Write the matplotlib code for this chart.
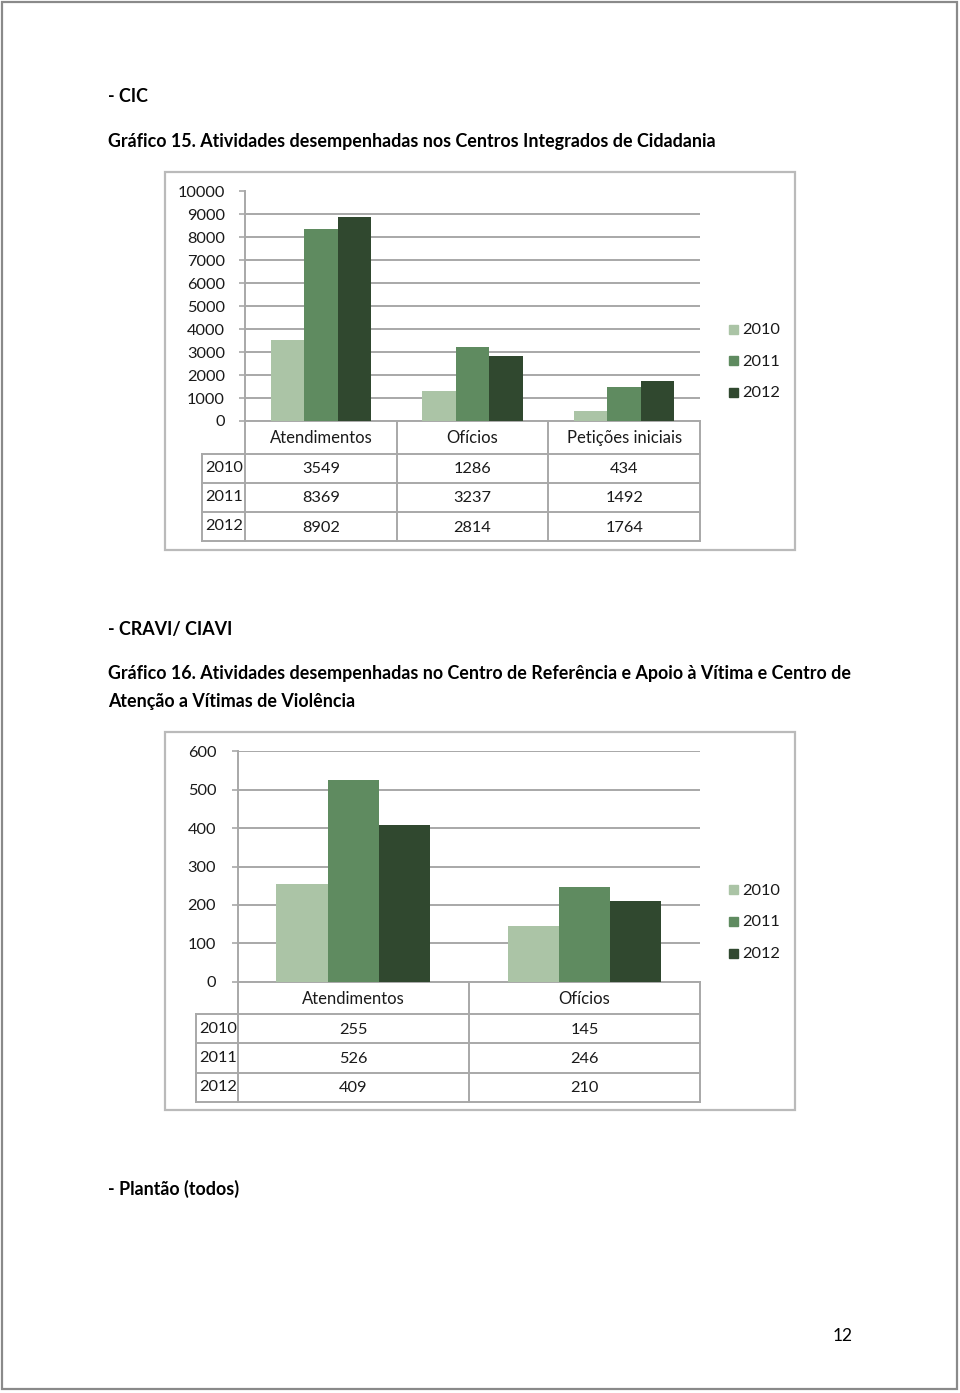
import numpy as np
import matplotlib
matplotlib.use("Agg")
import matplotlib.pyplot as plt
from matplotlib.patches import Rectangle
from matplotlib.transforms import blended_transform_factory

plt.rcParams['font.family'] = ['Lato', 'DejaVu Sans']

# ---------------- Data ----------------
years = ["2010", "2011", "2012"]

cic_cats = ["Atendimentos", "Ofícios", "Petições iniciais"]
cic_2010 = [3549, 1286, 434]
cic_2011 = [8369, 3237, 1492]
cic_2012 = [8902, 2814, 1764]

cravi_cats = ["Atendimentos", "Ofícios"]
cravi_2010 = [255, 145]
cravi_2011 = [526, 246]
cravi_2012 = [409, 210]

colors = ["#abc4a6", "#5f8b60", "#30482f"]
grid_col = "#a8a8a8"
text_col = "#1a1a1a"
num_size = 11.8
lab_size = 12

W, H = 960, 1393
fig = plt.figure(figsize=(W / 100, H / 100), dpi=100)

# overlay in pixel coordinates for page text, frames, table lines
ov = fig.add_axes([0, 0, 1, 1])
ov.set_xlim(0, W)
ov.set_ylim(H, 0)
ov.axis("off")


def px_axes(x0, y0, x1, y1):
    return fig.add_axes([x0 / W, 1 - y1 / H, (x1 - x0) / W, (y1 - y0) / H])


def draw_chart(frame, box, cats, series, ymax, ystep, table_left, row_lines,
               legend_ys, bar_w, tick_pad):
    x0, y0, x1, y1 = box
    # outer frame
    fx0, fy0, fx1, fy1 = frame
    ov.add_patch(Rectangle((fx0, fy0), fx1 - fx0, fy1 - fy0, fill=False,
                           edgecolor="#bababa", lw=1.6))

    ax = px_axes(x0, y0, x1, y1)
    n = len(cats)
    xs = np.arange(n)
    bars = []
    for j, vals in enumerate(series):
        b = ax.bar(xs + (j - 1) * bar_w, vals, bar_w, color=colors[j], zorder=3)
        bars.append(b)
    ax.set_xlim(-0.5, n - 0.5)
    ax.set_ylim(0, ymax)
    ax.set_yticks(np.arange(0, ymax + 1, ystep))
    ax.yaxis.grid(True, color=grid_col, lw=1.4)
    ax.set_axisbelow(True)
    for s in ["top", "right", "bottom"]:
        ax.spines[s].set_visible(False)
    ax.spines["left"].set_color(grid_col)
    ax.spines["left"].set_linewidth(1.4)
    ax.tick_params(axis="x", bottom=False, labelbottom=False)
    ax.tick_params(axis="y", length=4.5, width=1.2, color=grid_col,
                   labelsize=num_size, labelcolor=text_col, pad=tick_pad)
    ax.patch.set_alpha(0)

    # ---- data table under the axis ----
    def xpx(v):
        return x0 + (v + 0.5) / n * (x1 - x0)

    bounds = [xpx(i - 0.5) for i in range(n + 1)]
    hdr_bot = row_lines[0]
    bottom = row_lines[-1]
    lkw = dict(color=grid_col, lw=1.4)
    for bx in bounds:
        ov.plot([bx, bx], [y1, bottom], **lkw)
    ov.plot([table_left, table_left], [hdr_bot, bottom], **lkw)
    for ry in row_lines:
        ov.plot([table_left, x1], [ry, ry], **lkw)
    ov.plot([x0, x1], [y1, y1], **lkw)

    tr = blended_transform_factory(ax.transData, ov.transData)
    for i, c in enumerate(cats):
        ov.text(i, (y1 + hdr_bot) / 2 + 1, c, transform=tr, ha="center",
                va="center", fontsize=lab_size, color=text_col)
    for j, vals in enumerate(series):
        yc = (row_lines[j] + row_lines[j + 1]) / 2
        ov.text(table_left + 3, yc, years[j], ha="left", va="center",
                fontsize=num_size, color=text_col)
        for i, v in enumerate(vals):
            ov.text(i, yc + 1, str(v), transform=tr, ha="center", va="center",
                    fontsize=num_size, color=text_col)

    # ---- legend ----
    for j, b in enumerate(bars):
        ly = legend_ys[j]
        ov.add_patch(Rectangle((729, ly - 4.5), 9, 9,
                               color=b.patches[0].get_facecolor()))
        ov.text(742, ly + 1, years[j], ha="left", va="center",
                fontsize=num_size, color=text_col)


# ---------------- Page ----------------
ov.add_patch(Rectangle((2, 2), 955, 1387, fill=False, edgecolor="#8a8a8a",
                       lw=1.6))

hkw = dict(fontsize=12.9, fontweight="bold", color="black", va="center",
           ha="left")
ov.text(108, 97, "- CIC", **hkw)
ov.text(108, 142, "Gráfico 15. Atividades desempenhadas nos Centros "
        "Integrados de Cidadania", **hkw)
ov.text(108, 630, "- CRAVI/ CIAVI", **hkw)
ov.text(108, 674, "Gráfico 16. Atividades desempenhadas no Centro de "
        "Referência e Apoio à Vítima e Centro de", **hkw)
ov.text(108, 701, "Atenção a Vítimas de Violência", **hkw)
ov.text(108, 1189, "- Plantão (todos)", **hkw)
ov.text(843, 1336, "12", fontsize=12.5, ha="center", va="center",
        color="black")

# ---------------- Charts ----------------
draw_chart(frame=(165, 172, 795, 550), box=(245, 191.5, 700, 421),
           cats=cic_cats, series=[cic_2010, cic_2011, cic_2012],
           ymax=10000, ystep=1000, table_left=202,
           row_lines=[453.5, 482.6, 512, 541],
           legend_ys=[329, 360.5, 392], bar_w=0.221, tick_pad=10)

draw_chart(frame=(165, 732, 795, 1110), box=(237.7, 751.4, 700, 981.6),
           cats=cravi_cats, series=[cravi_2010, cravi_2011, cravi_2012],
           ymax=600, ystep=100, table_left=196,
           row_lines=[1013.8, 1043.3, 1072.5, 1101.6],
           legend_ys=[889.8, 921.3, 953], bar_w=0.2216, tick_pad=11)

fig.savefig("out.png", dpi=100)
